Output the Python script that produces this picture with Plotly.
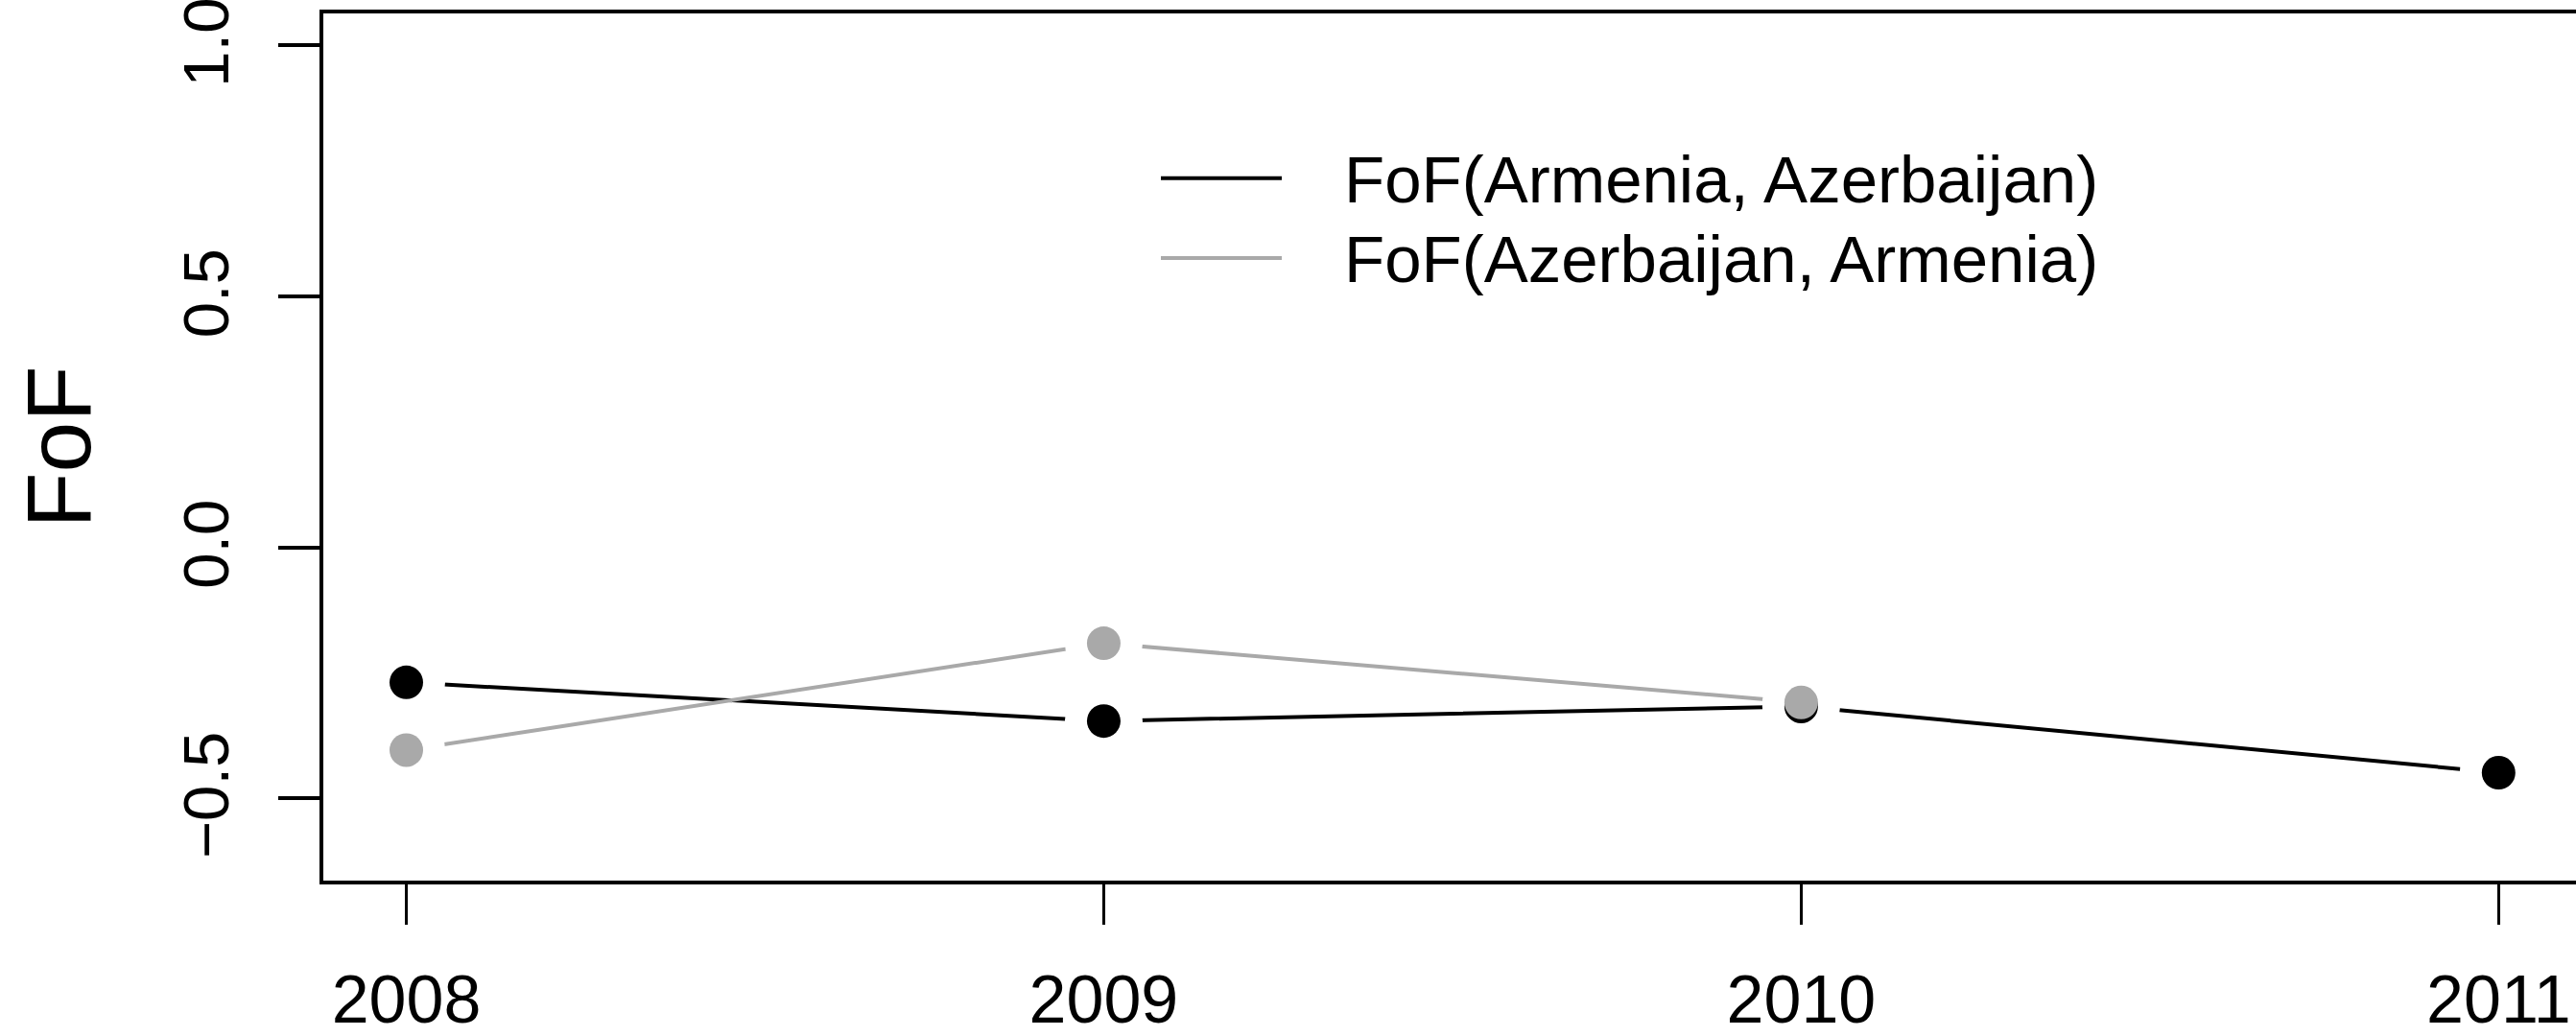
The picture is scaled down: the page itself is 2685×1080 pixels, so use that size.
import plotly.graph_objects as go

# Yearly FoF scores for the two directed country pairs
years = [2008, 2009, 2010, 2011]
fof_arm_aze = [-0.269, -0.346, -0.317, -0.449]
years_aze_arm = [2008, 2009, 2010]
fof_aze_arm = [-0.404, -0.191, -0.309]

series_names = ["FoF(Armenia, Azerbaijan)", "FoF(Azerbaijan, Armenia)"]
series_colors = ["#000000", "#A9A9A9"]
x_ticks = [2008, 2009, 2010, 2011]
y_ticks = [-0.5, 0.0, 0.5, 1.0]
y_tick_text = ["\u22120.5", "0.0", "0.5", "1.0"]

FONT = "Liberation Sans, Arial, Helvetica, sans-serif"
MARK = 35
GAP = 81  # white halo giving the "both" (points + broken line) look

fig = go.Figure()

series = [
    (years, fof_arm_aze, series_names[0], series_colors[0]),
    (years_aze_arm, fof_aze_arm, series_names[1], series_colors[1]),
]

# connecting lines
for xs, ys, name, col in series:
    fig.add_trace(go.Scatter(x=xs, y=ys, mode="lines", name=name,
                             line=dict(color=col, width=4),
                             showlegend=False, hoverinfo="skip"))
# white halos that break the lines around each point
for xs, ys, name, col in series:
    fig.add_trace(go.Scatter(x=xs, y=ys, mode="markers",
                             marker=dict(size=GAP, color="white", line=dict(width=0)),
                             showlegend=False, hoverinfo="skip"))
# filled points
for xs, ys, name, col in series:
    fig.add_trace(go.Scatter(x=xs, y=ys, mode="markers", name=name,
                             marker=dict(size=MARK, color=col, line=dict(width=0)),
                             showlegend=False))

# hand-built legend: line samples plus labels (pixel rows from the top edge)
PLOT_L, PLOT_T, PLOT_W, PLOT_H = 337, 14, 2348, 904
PLOT_B = PLOT_T + PLOT_H
legend_rows = [(185.7, series_colors[0], series_names[0]),
               (269.0, series_colors[1], series_names[1])]
for row_px, col, name in legend_rows:
    yy = (PLOT_B - row_px) / PLOT_H
    fig.add_shape(type="line", xref="paper", yref="paper",
                  x0=(1210 - PLOT_L) / PLOT_W, x1=(1336 - PLOT_L) / PLOT_W,
                  y0=yy, y1=yy, line=dict(color=col, width=4))
    fig.add_annotation(xref="paper", yref="paper",
                       x=(1399 - PLOT_L) / PLOT_W, y=yy - 2 / PLOT_H,
                       xanchor="left", yanchor="middle",
                       text=name, showarrow=False,
                       font=dict(family=FONT, size=69, color="black"))

fig.update_layout(
    width=2685, height=1080,
    margin=dict(l=PLOT_L, r=0, t=PLOT_T, b=1080 - PLOT_B, autoexpand=False),
    paper_bgcolor="white", plot_bgcolor="white",
    font=dict(family=FONT, color="black"),
    showlegend=False,
    xaxis=dict(range=[2007.881, 2011.111], tickvals=x_ticks,
               ticktext=[str(v) for v in x_ticks],
               showline=True, linecolor="black", linewidth=4, mirror=True,
               ticks="outside", ticklen=42, tickwidth=3, tickcolor="black",
               showgrid=False, zeroline=False, ticklabeloverflow="allow",
               tickfont=dict(family=FONT, size=70), ticklabelstandoff=18),
    yaxis=dict(range=[-0.664, 1.064], tickvals=y_ticks,
               # a trailing thin space nudges the rotated labels slightly downward
               ticktext=[t + "\u2009" for t in y_tick_text],
               showline=True, linecolor="black", linewidth=4, mirror=False,
               ticks="outside", ticklen=43, tickwidth=4, tickcolor="black",
               showgrid=False, zeroline=False, tickangle=-90,
               ticklabeloverflow="allow",
               tickfont=dict(family=FONT, size=67), ticklabelstandoff=25,
               title=dict(text="FoF", font=dict(family=FONT, size=95), standoff=52)),
)

fig.write_html("out.html")
